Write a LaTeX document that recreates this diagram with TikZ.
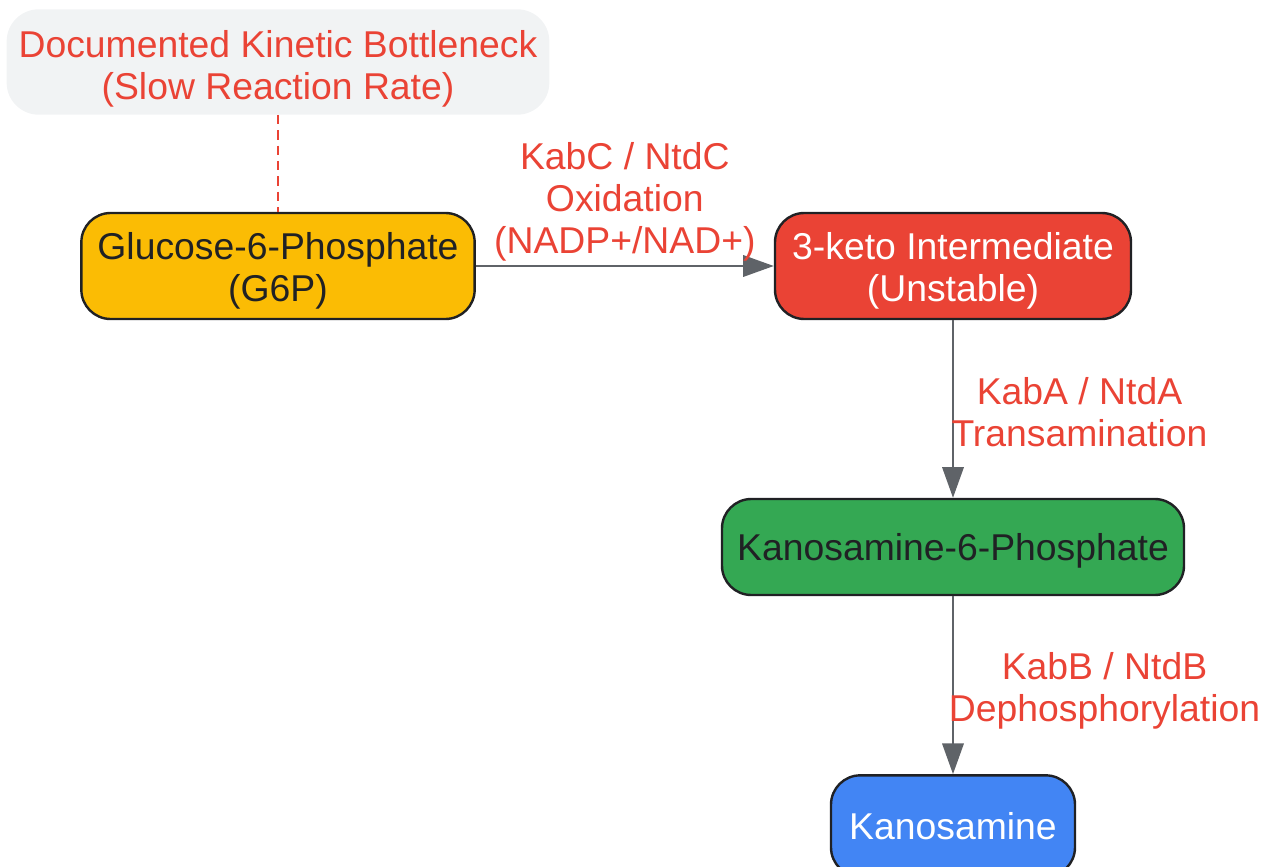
\documentclass[tikz,border=0pt]{standalone}
\usepackage{fontspec}
\setmainfont{Liberation Sans}
\usetikzlibrary{arrows.meta}

\definecolor{gyellow}{HTML}{FBBC04}
\definecolor{gred}{HTML}{EA4335}
\definecolor{ggreen}{HTML}{34A853}
\definecolor{gblue}{HTML}{4285F4}
\definecolor{ggray}{HTML}{F1F3F4}
\definecolor{edgegray}{HTML}{5F6368}
\definecolor{inkdark}{HTML}{202124}

% one line of text, set a little lower than TeX would centre it
\newcommand{\dnline}[2][4pt]{\raisebox{-#1}[\height][\depth]{#2}}

\begin{document}
\begin{tikzpicture}[x=0.75pt, y=-0.75pt,
    big/.style = {font=\fontsize{28}{31.5}\selectfont, align=center},
    main/.style = {big, draw=inkdark, line width=1.8pt, rounded corners=22pt, inner sep=0pt},
    note/.style = {big, fill=ggray, text=gred, rounded corners=24pt, inner sep=0pt},
    link/.style = {draw=edgegray, line width=1.8pt, -{Triangle[length=23pt,width=16pt]}},
    lbl/.style = {big, text=gred, inner sep=3pt}]
    \useasboundingbox (0,0) rectangle (1261,867);
    \node[note, minimum width=407pt, minimum height=79pt] (note) at (278,62)
        {\dnline[5pt]{Documented Kinetic Bottleneck}\\\dnline[5pt]{(Slow Reaction Rate)}};
    \node[main, fill=gyellow, text=inkdark, minimum width=295pt, minimum height=79.5pt] (g6p) at (278,266)
        {\dnline{Glucose-6-Phosphate}\\\dnline{(G6P)}};
    \node[main, fill=gred, text=white, minimum width=267pt, minimum height=79.5pt] (keto) at (953,266)
        {\dnline{3-keto Intermediate}\\\dnline{(Unstable)}};
    \node[main, fill=ggreen, text=inkdark, minimum width=346.5pt, minimum height=72pt] (k6p) at (953,547)
        {\dnline[3pt]{Kanosamine-6-Phosphate}};
    \node[main, fill=gblue, text=white, minimum width=183pt, minimum height=76pt] (kan) at (953,826)
        {Kanosamine};
    % reactions
    \draw[link] (g6p) -- node[lbl, above] {KabC / NtdC\\Oxidation\\(NADP+/NAD+)} (keto);
    \draw[link] (keto) -- node[lbl, anchor=west, xshift=-5, yshift=-2pt] {KabA / NtdA\\Transamination} (k6p);
    \draw[link] (k6p) -- node[lbl, anchor=west, xshift=-7, yshift=-4.5pt] {KabB / NtdB\\Dephosphorylation} (kan);
    % bottleneck note
    \draw[gred, line width=1.6pt, dash pattern=on 7pt off 4.5pt] (note) -- (g6p);
\end{tikzpicture}
\end{document}
